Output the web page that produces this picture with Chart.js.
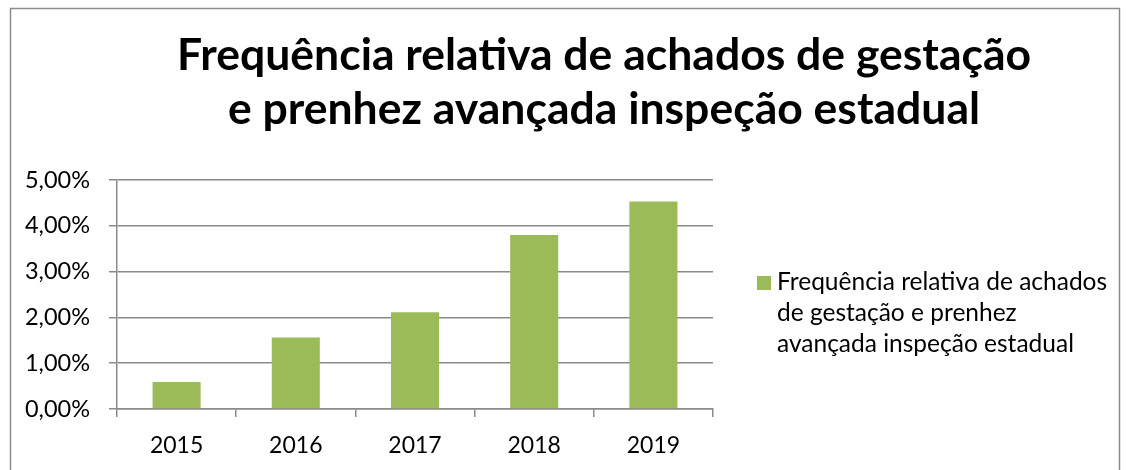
<!DOCTYPE html>
<html><head><meta charset="utf-8">
<script src="https://cdn.jsdelivr.net/npm/chart.js@4/dist/chart.umd.min.js"></script>
<style>html,body{margin:0;padding:0;background:#fff;overflow:hidden}#wrap{position:relative;width:1130px;height:470px}</style>
</head><body><div id="wrap"><canvas id="c" width="1130" height="470"></canvas></div>
<script>
const categories = ['2015', '2016', '2017', '2018', '2019'];
const seriesValues = [0.59, 1.56, 2.11, 3.80, 4.53];
const seriesName = 'Frequência relativa de achados de gestação e prenhez avançada inspeção estadual';
const titleLines = ['Frequência relativa de achados de gestação', 'e prenhez avançada inspeção estadual'];
const legendLines = ['Frequência relativa de achados', 'de gestação e prenhez', 'avançada inspeção estadual'];
const yTickValues = [0, 1, 2, 3, 4, 5];

const BAR_COLOR = '#9BBB59';
const GRID_COLOR = '#8a8a8a';
const FONT = 'Lato';

const decor = {
  id: 'decor',
  beforeDraw(chart) {
    const ctx = chart.ctx;
    ctx.save();
    ctx.fillStyle = '#fff';
    ctx.fillRect(0, 0, chart.width, chart.height);
    ctx.strokeStyle = '#8c8c8c';
    ctx.lineWidth = 1.5;
    ctx.strokeRect(10.5, 8.5, 1109, 480);
    ctx.restore();
  },
  afterDraw(chart) {
    const ctx = chart.ctx;
    ctx.save();
    // title
    ctx.fillStyle = '#000';
    ctx.font = 'bold 44.5px ' + FONT;
    ctx.textAlign = 'center';
    ctx.textBaseline = 'alphabetic';
    ctx.fillText(titleLines[0], 604, 70);
    ctx.fillText(titleLines[1], 604, 124);
    // legend
    const ds = chart.data.datasets[0];
    ctx.fillStyle = ds.backgroundColor;
    ctx.fillRect(757, 276, 14, 14);
    ctx.fillStyle = '#000';
    ctx.font = '24.5px ' + FONT;
    ctx.textAlign = 'left';
    legendLines.forEach((t, i) => ctx.fillText(t, 777, 290 + i * 31));
    ctx.restore();
  }
};

new Chart(document.getElementById('c'), {
  type: 'bar',
  data: {
    labels: categories,
    datasets: [{
      label: seriesName,
      data: seriesValues,
      backgroundColor: BAR_COLOR,
      borderWidth: 0,
      categoryPercentage: 1,
      barPercentage: 0.403
    }]
  },
  options: {
    responsive: false,
    animation: false,
    devicePixelRatio: 1,
    layout: { padding: { left: 10, right: 417, top: 180, bottom: 0 } },
    plugins: { legend: { display: false }, title: { display: false }, tooltip: { enabled: false } },
    scales: {
      y: {
        min: 0, max: 5,
        afterFit(s) { s.width = 107; },
        afterBuildTicks(s) { s.ticks = yTickValues.map(v => ({ value: v })); },
        ticks: {
          padding: 19,
          color: '#000',
          font: { family: FONT, size: 23.5 },
          callback: v => v.toFixed(2).replace('.', ',') + '%'
        },
        grid: { color: GRID_COLOR, lineWidth: 1.5, tickLength: 8, tickColor: GRID_COLOR },
        border: { color: GRID_COLOR, width: 1.5 }
      },
      x: {
        afterFit(s) { s.height = 61; },
        ticks: { padding: 15, color: '#000', font: { family: FONT, size: 23 } },
        grid: { drawOnChartArea: false, drawTicks: true, tickLength: 8, color: GRID_COLOR, lineWidth: 1.5, offset: true },
        border: { color: GRID_COLOR, width: 1.5 }
      }
    }
  },
  plugins: [decor]
});
</script>
</body></html>
